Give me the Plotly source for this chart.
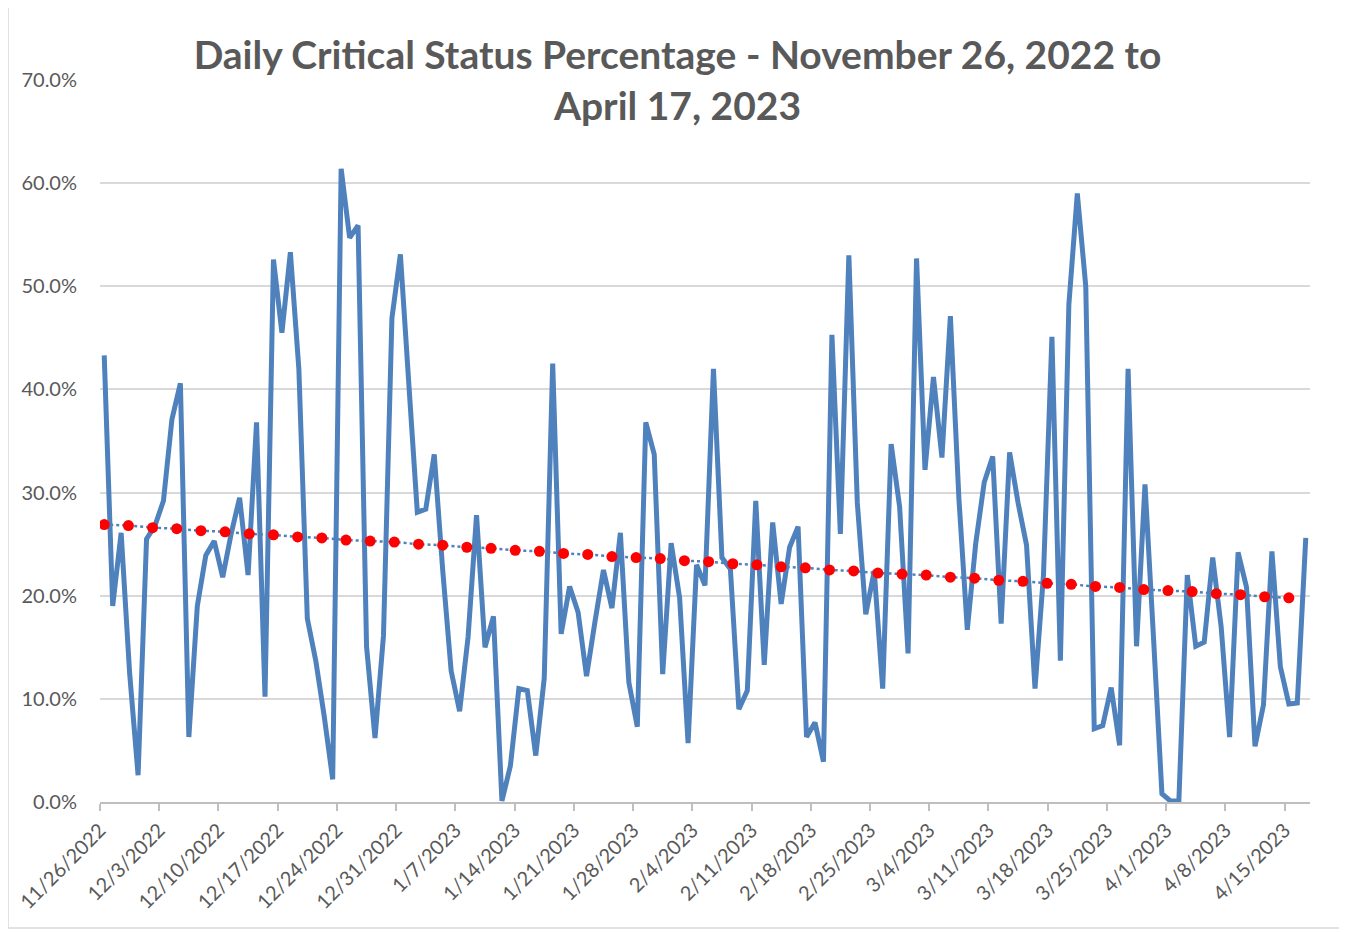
import pandas as pd
import plotly.graph_objects as go

start_date = "2022-11-26"
end_date = "2023-04-17"

# Daily critical status percentage (%), one value per day
critical_pct = [
    43.3, 19.0, 26.1, 12.5, 2.6, 25.5, 26.8, 29.2, 37.1, 40.6,
    6.3, 19.0, 23.9, 25.3, 21.8, 26.0, 29.5, 22.0, 36.8, 10.2,
    52.6, 45.5, 53.3, 42.0, 17.8, 13.7, 8.3, 2.2, 61.4, 54.7,
    55.9, 15.1, 6.2, 16.1, 46.9, 53.1, 40.5, 28.1, 28.4, 33.7,
    22.5, 12.7, 8.8, 16.0, 27.8, 15.0, 18.0, 0.1, 3.5, 11.0,
    10.8, 4.5, 12.0, 42.5, 16.3, 20.9, 18.4, 12.2, 17.5, 22.5,
    18.8, 26.1, 11.6, 7.3, 36.8, 33.7, 12.4, 25.1, 19.8, 5.7,
    23.0, 21.0, 42.0, 23.7, 22.6, 9.0, 10.8, 29.2, 13.3, 27.1,
    19.2, 24.7, 26.7, 6.3, 7.7, 3.9, 45.3, 26.0, 53.0, 29.0,
    18.2, 22.4, 11.0, 34.7, 28.6, 14.4, 52.7, 32.2, 41.2, 33.4,
    47.1, 29.5, 16.7, 25.1, 31.0, 33.5, 17.3, 33.9, 29.0, 24.9,
    11.0, 22.0, 45.1, 13.7, 48.2, 59.0, 50.0, 7.1, 7.4, 11.1,
    5.5, 42.0, 15.1, 30.8, 16.0, 0.8, 0.1, 0.1, 22.0, 15.1,
    15.5, 23.7, 17.0, 6.3, 24.2, 20.8, 5.4, 9.4, 24.3, 13.1,
    9.5, 9.6, 25.6,
]

# Trend marker values (%)
trend_pct = [
    26.9, 26.8, 26.6, 26.5, 26.3, 26.2, 26.0, 25.9, 25.7, 25.6,
    25.4, 25.3, 25.2, 25.0, 24.9, 24.7, 24.6, 24.4, 24.3, 24.1,
    24.0, 23.8, 23.7, 23.6, 23.4, 23.3, 23.1, 23.0, 22.8, 22.7,
    22.5, 22.4, 22.2, 22.1, 22.0, 21.8, 21.7, 21.5, 21.4, 21.2,
    21.1, 20.9, 20.8, 20.6, 20.5, 20.4, 20.2, 20.1, 19.9, 19.8,
]

title_text = "Daily Critical Status Percentage - November 26, 2022 to<br>April 17, 2023"

days = pd.date_range(start_date, end_date, freq="D")
x_days = days + pd.Timedelta(hours=12)  # points centred in each day cell
y_days = [v / 100 for v in critical_pct]

span_days = (len(days) - 3) / (len(trend_pct) - 1)
x_trend = [pd.Timestamp(start_date) + pd.Timedelta(hours=12) + pd.Timedelta(days=k * span_days)
           for k in range(len(trend_pct))]
y_trend = [v / 100 for v in trend_pct]

fig = go.Figure()
fig.add_trace(go.Scatter(
    x=x_days, y=y_days, mode="lines",
    line=dict(color="#4F81BD", width=5),
    hovertemplate="%{x|%-m/%-d/%Y}: %{y:.1%}<extra></extra>",
    showlegend=False,
))
fig.add_trace(go.Scatter(
    x=x_trend, y=y_trend, mode="lines+markers",
    line=dict(color="#4F81BD", width=2.5, dash="dot"),
    marker=dict(color="#FF0000", size=11),
    hoverinfo="skip",
    showlegend=False,
))

font_family = "Lato, 'Open Sans', sans-serif"

fig.update_layout(
    width=1339, height=924,
    margin=dict(l=92, r=37, t=72, b=130),
    paper_bgcolor="white", plot_bgcolor="white",
    title=dict(text=title_text, x=0.5, xanchor="center", xref="container",
               yref="container", y=0.934, yanchor="top",
               font=dict(family=font_family, size=39, color="#595959", weight="bold")),
    xaxis=dict(
        type="date", automargin=False,
        range=[pd.Timestamp(start_date), pd.Timestamp(end_date) + pd.Timedelta(days=1)],
        tick0=start_date, dtick=7 * 86400000,
        tickformat="%-m/%-d/%Y", tickangle=-45,
        tickfont=dict(family=font_family, size=20, color="#595959"),
        showgrid=False, showline=True, linecolor="#BFBFBF", linewidth=1.5,
        ticks="outside", ticklen=7, tickcolor="#BFBFBF", tickwidth=1.5,
        zeroline=False,
    ),
    yaxis=dict(
        range=[0, 0.7], dtick=0.1, tickformat=".1%", automargin=False,
        tickfont=dict(family=font_family, size=20, color="#595959"),
        showgrid=True, gridcolor="#D9D9D9", gridwidth=1.5,
        showline=False, zeroline=False, ticks="", ticklabelstandoff=22,
    ),
    shapes=[dict(type="rect", xref="paper", yref="paper",
                 x0=-0.076, x1=1.0273, y0=-0.1745, y1=1.101,
                 line=dict(color="#D9D9D9", width=1.5), fillcolor="rgba(0,0,0,0)", layer="below")],
)

fig.write_html("out.html")
